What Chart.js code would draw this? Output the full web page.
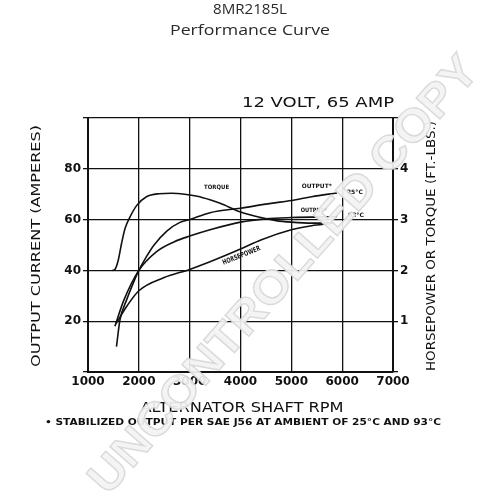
<!DOCTYPE html>
<html>
<head>
<meta charset="utf-8">
<title>8MR2185L Performance Curve</title>
<script src="https://cdn.jsdelivr.net/npm/chart.js@4.4.0/dist/chart.umd.min.js"></script>
<style>
  html, body { margin: 0; padding: 0; background: #fff; }
  #wrap { width: 500px; height: 500px; position: relative; }
</style>
</head>
<body>
<div id="wrap"><canvas id="perfChart" width="500" height="500"></canvas></div>
<script>
// ── Data ───────────────────────────────────────────────────────
const rpmTicks = [1000, 2000, 3000, 4000, 5000, 6000, 7000];
const ampTicks = [20, 40, 60, 80];
const hpTicks  = [1, 2, 3, 4];

// torque, right axis (ft.-lbs.)
const torqueRpm = [1480, 1530, 1595, 1660, 1730, 1825, 1960, 2150, 2400, 2650, 2900, 3150, 3400, 3600, 4000, 4400, 4700, 5000, 5400, 5800];
const torqueVal = [2.0, 2.02, 2.2, 2.53, 2.83, 3.05, 3.28, 3.45, 3.51, 3.52, 3.5, 3.46, 3.39, 3.32, 3.15, 3.04, 2.98, 2.95, 2.93, 2.93];

// output current 25°C, left axis (amperes)
const out25Rpm = [1560, 1630, 1760, 1890, 2000, 2150, 2300, 2550, 2800, 3000, 3400, 4000, 4600, 5000, 5400, 5900];
const out25Val = [10, 20.6, 28.4, 35, 40, 45.4, 50, 55.5, 58.8, 60, 62.7, 64.5, 66.4, 67.5, 69, 70.5];

// output current 93°C, left axis (amperes)
const out93Rpm = [1530, 1700, 2000, 2350, 2700, 3000, 3400, 4000, 4500, 5000, 5900];
const out93Val = [18, 28, 40, 47.4, 51.3, 53.5, 56, 59, 60.3, 60.8, 61.2];

// horsepower, right axis
const hpRpm = [1550, 1760, 2000, 2500, 3000, 3400, 4000, 4400, 5000, 5400, 5750];
const hpVal = [0.95, 1.29, 1.6, 1.86, 2.02, 2.17, 2.42, 2.6, 2.8, 2.88, 2.92];

const INK = '#111';

function pts(xs, ys) {
    return xs.map((x, i) => ({ x: x, y: ys[i] }));
}

function curve(label, xs, ys, axis) {
    return {
        label: label,
        data: pts(xs, ys),
        yAxisID: axis,
        borderColor: INK,
        borderWidth: 1.6,
        pointRadius: 0,
        fill: false,
        cubicInterpolationMode: 'monotone',
    };
}

// stretch a string horizontally so it fills a given width
function fitText(ctx, text, cx, cy, width, font, angle) {
    ctx.save();
    ctx.font = font;
    ctx.translate(cx, cy);
    if (angle) ctx.rotate(angle);
    const w = ctx.measureText(text).width;
    ctx.scale(width / w, 1);
    ctx.textAlign = 'center';
    ctx.textBaseline = 'middle';
    ctx.fillText(text, 0, 0);
    ctx.restore();
}

// ── Annotations, titles, watermark ─────────────────────────────
const textPlugin = {
    id: 'sheetText',
    afterDraw(chart) {
        const ctx = chart.ctx;
        const xs = chart.scales.x, ys = chart.scales.y;
        const px = v => xs.getPixelForValue(v);
        const py = v => ys.getPixelForValue(v);

        ctx.save();
        ctx.fillStyle = '#2a2a2a';
        fitText(ctx, '8MR2185L', 250, 10, 74, '15px "Open Sans"');
        fitText(ctx, 'Performance Curve', 250, 31, 160, '15px "Open Sans"');

        ctx.fillStyle = INK;
        fitText(ctx, '12 VOLT, 65 AMP', 318, 103, 152, '14px "DejaVu Sans"');
        fitText(ctx, 'OUTPUT CURRENT (AMPERES)', 37, 246, 242, '13px "DejaVu Sans"', -Math.PI / 2);
        fitText(ctx, 'HORSEPOWER OR TORQUE (FT.-LBS.)', 432, 246, 250, '12px "DejaVu Sans"', -Math.PI / 2);
        fitText(ctx, 'ALTERNATOR SHAFT RPM', 242, 408, 203, '14px "DejaVu Sans"');
        fitText(ctx, '\u2022 STABILIZED OUTPUT PER SAE J56 AT AMBIENT OF 25\u00B0C AND 93\u00B0C', 243, 423, 396, 'bold 8px "DejaVu Sans"');

        // small curve labels inside the grid
        fitText(ctx, 'TORQUE', px(3530), py(72.7), 25, 'bold 6px "DejaVu Sans"');
        fitText(ctx, 'OUTPUT*', px(5500), py(73), 30, 'bold 6px "DejaVu Sans"');
        fitText(ctx, '25\u00B0C', px(6250), py(70.6), 16, 'bold 6px "DejaVu Sans"');
        fitText(ctx, 'OUTPUT*', px(5440), py(63.5), 26, 'bold 6px "DejaVu Sans"');
        fitText(ctx, '93\u00B0C', px(6270), py(61.6), 16, 'bold 6px "DejaVu Sans"');
        fitText(ctx, 'HORSEPOWER', px(4020), py(45.8), 40, 'bold 7px "DejaVu Sans"', -0.38);

        // UNCONTROLLED COPY watermark
        ctx.translate(285, 276);
        ctx.rotate(-0.85);
        ctx.font = 'bold 46px "Liberation Sans"';
        const w = ctx.measureText('UNCONTROLLED COPY').width;
        ctx.scale(565 / w, 1);
        ctx.textAlign = 'center';
        ctx.textBaseline = 'middle';
        ctx.fillStyle = 'rgba(243,243,243,0.93)';
        ctx.strokeStyle = 'rgba(215,215,215,0.9)';
        ctx.lineWidth = 1.4;
        ctx.fillText('UNCONTROLLED COPY', 0, 0);
        ctx.strokeText('UNCONTROLLED COPY', 0, 0);
        ctx.restore();
    }
};

// ── Chart ──────────────────────────────────────────────────────
const tickFont = { family: '"DejaVu Sans"', size: 12, weight: 'bold' };

new Chart(document.getElementById('perfChart'), {
    type: 'line',
    data: {
        datasets: [
            curve('Torque', torqueRpm, torqueVal, 'y1'),
            curve('Output 25\u00B0C', out25Rpm, out25Val, 'y'),
            curve('Output 93\u00B0C', out93Rpm, out93Val, 'y'),
            curve('Horsepower', hpRpm, hpVal, 'y1'),
        ],
    },
    options: {
        responsive: false,
        animation: false,
        devicePixelRatio: 1,
        layout: { padding: { top: 118, bottom: 0, left: 0, right: 0 } },
        plugins: {
            legend: { display: false },
            tooltip: { enabled: false },
        },
        scales: {
            x: {
                type: 'linear',
                min: rpmTicks[0],
                max: rpmTicks[rpmTicks.length - 1],
                afterBuildTicks: s => { s.ticks = rpmTicks.map(v => ({ value: v })); },
                afterFit: s => { s.height = 128; },
                ticks: {
                    color: INK, font: tickFont, padding: 3, autoSkip: false, maxRotation: 0,
                    callback: v => String(v),
                },
                grid: { color: INK, lineWidth: 1.3, drawTicks: false },
                border: { color: INK, width: 2 },
            },
            y: {
                position: 'left',
                min: 0,
                max: 100,
                afterBuildTicks: s => { s.ticks = [0].concat(ampTicks, [100]).map(v => ({ value: v })); },
                afterFit: s => { s.width = 88; },
                ticks: {
                    color: INK, font: tickFont, padding: 2,
                    callback: v => ampTicks.includes(v) ? String(v) : '',
                },
                grid: { color: INK, lineWidth: 1.3, tickLength: 5 },
                border: { color: INK, width: 2 },
            },
            y1: {
                position: 'right',
                min: 0,
                max: 5,
                afterBuildTicks: s => { s.ticks = [0].concat(hpTicks, [5]).map(v => ({ value: v })); },
                afterFit: s => { s.width = 107; },
                ticks: {
                    color: INK, font: tickFont, padding: 2,
                    callback: v => hpTicks.includes(v) ? String(v) : '',
                },
                grid: { color: INK, lineWidth: 1.3, tickLength: 5, drawOnChartArea: false },
                border: { color: INK, width: 2 },
            },
        },
    },
    plugins: [textPlugin],
});
</script>
</body>
</html>
